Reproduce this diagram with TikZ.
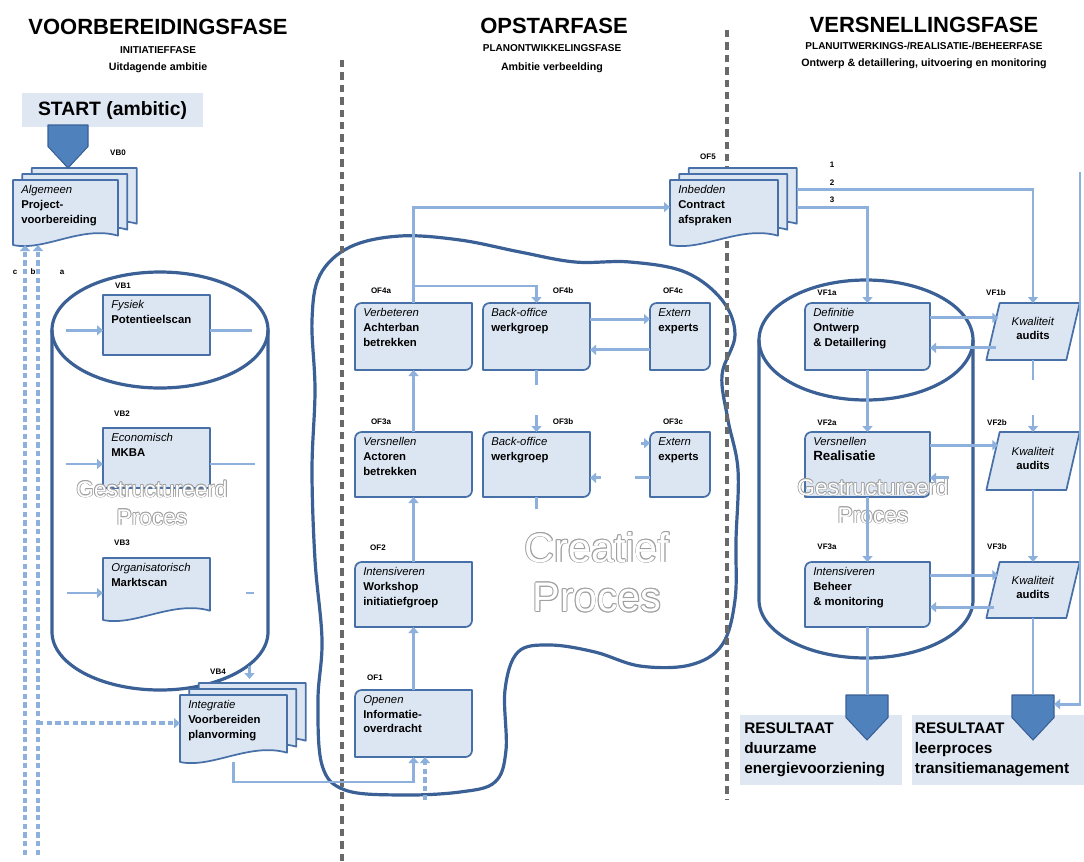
\documentclass[tikz,border=0pt]{standalone}
\usepackage{fontspec}
\setmainfont{Liberation Sans}
\usetikzlibrary{calc,arrows.meta}
\pgfdeclarelayer{back}
\pgfdeclarelayer{mid}
\pgfsetlayers{back,mid,main}

\definecolor{boxfill}{RGB}{220,230,242}
\definecolor{boxedge}{RGB}{72,112,168}
\definecolor{linkblue}{RGB}{141,177,220}
\definecolor{rimblue}{RGB}{58,96,150}
\definecolor{shieldblue}{RGB}{79,129,189}
\definecolor{sepgray}{RGB}{105,105,105}
\definecolor{panelfill}{RGB}{222,231,242}
\definecolor{rimgray}{RGB}{160,160,160}

% node of given pixel extent: style, name, x1, y1, x2, y2, text
\newcommand\place[7]{\node[#1, minimum width={(#5-#3)*0.75pt}, minimum height={(#6-#4)*0.75pt}] (#2) at ({(#3+#5)/2},{(#4+#6)/2}) {#7};}
% text block in the upper left corner of a box
\newcommand\btext[2]{\node[btxt] (#1-t) at ([xshift=6pt,yshift=-4pt]#1.north west) {#2};}
% box outlines
\newcommand\rectshape[1]{\path[boxshape] (#1.north west) rectangle (#1.south east);}
\newcommand\roundshape[1]{\path[boxshape] (#1.south west) -- ([yshift=-5pt]#1.north west) arc[start angle=180,end angle=90,radius=5pt] -- (#1.north east) -- ([yshift=5pt]#1.south east) arc[start angle=0,end angle=-90,radius=5pt] -- cycle;}
\newcommand\docshape[3]{\path[boxshape]
  ([xshift=#2,yshift=#3]#1.north west) -- ([xshift=#2,yshift=#3]#1.north east)
  -- ([xshift=#2,yshift=#3+7pt]#1.south east)
  .. controls ($(#1.south east)!0.35!(#1.south west)+(#2,#3+15pt)$) and ($(#1.south east)!0.7!(#1.south west)+(#2,#3-5pt)$)
  .. ([xshift=#2,yshift=#3]#1.south west) -- cycle;}
\newcommand\stackshape[1]{\docshape{#1}{14pt}{9pt}\docshape{#1}{7pt}{4.5pt}\docshape{#1}{0pt}{0pt}}
\newcommand\parashape[1]{\path[boxshape] ([xshift=5pt]#1.north west) -- ([xshift=5pt]#1.north east) -- ([xshift=-5pt]#1.south east) -- ([xshift=-5pt]#1.south west) -- cycle;}
\newcommand\shieldshape[1]{\path[shield] (#1.north west) -- (#1.north east) -- ($(#1.north east)!0.5!(#1.south east)$) -- (#1.south) -- ($(#1.north west)!0.5!(#1.south west)$) -- cycle;}
% white lettering with a grey rim: name, position, size, skip, text
\newcommand\ghosttext[5]{%
  \foreach \gx/\gy [count=\gi] in {0.6/0,-0.6/0,0/0.6,0/-0.6,0.42/0.42,-0.42/0.42,0.42/-0.42,-0.42/-0.42}{
    \node[align=center, inner sep=0pt, text=rimgray, font=\fontsize{#3}{#4}\selectfont] (#1-\gi) at ([xshift=\gx*1pt,yshift=\gy*1pt]#2) {#5};}
  \node[align=center, inner sep=0pt, text=white, font=\fontsize{#3}{#4}\selectfont] (#1) at (#2) {#5};}

\begin{document}
\begin{tikzpicture}[x=0.75pt,y=-0.75pt,
  area/.style={rectangle, inner sep=0pt, outer sep=0pt, draw=none},
  panel/.style={rectangle, inner sep=0pt, outer sep=0pt, fill=panelfill},
  boxshape/.style={draw=boxedge, line width=1.3pt, fill=boxfill, line join=round},
  shield/.style={draw=rimblue, line width=0.8pt, fill=shieldblue, line join=round},
  btxt/.style={inner sep=0pt, align=left, anchor=north west, font=\fontsize{8.5}{11}\selectfont},
  ktxt/.style={inner sep=0pt, align=center, font=\fontsize{8.5}{10.5}\selectfont},
  tag/.style={inner sep=0pt, font=\bfseries\fontsize{6}{7}\selectfont},
  head/.style={inner sep=0pt, font=\bfseries\fontsize{16.5}{18}\selectfont},
  subcap/.style={inner sep=0pt, font=\bfseries\fontsize{7.5}{9}\selectfont},
  sublow/.style={inner sep=0pt, font=\bfseries\fontsize{8}{9}\selectfont},
  restxt/.style={inner sep=0pt, align=left, anchor=west, font=\bfseries\fontsize{11.5}{15}\selectfont},
  link/.style={draw=linkblue, line width=2.2pt},
  arr/.style={link, -{Triangle[length=4.5pt,width=7.5pt]}},
  dlink/.style={draw=linkblue, line width=2.6pt, dash pattern=on 4pt off 2.5pt},
  darr/.style={dlink, -{Triangle[length=4.5pt,width=7.5pt]}},
  rim/.style={draw=rimblue, line width=2.4pt},
  sep/.style={draw=sepgray, line width=3.6pt, dash pattern=on 5.5pt off 3.8pt}]
\useasboundingbox (0,0) rectangle (1084,861);

% ---------- background: phase separators, cylinders, creative cloud ----------
\coordinate (s1a) at (342,60);  \coordinate (s1b) at (342,861);
\coordinate (s2a) at (727,30);  \coordinate (s2b) at (727,800);
\begin{pgfonlayer}{back}
  \path[rim] plot[smooth cycle, tension=0.6] coordinates {
    (320,275) (350,247) (400,236) (460,240) (520,252) (575,262) (630,262) (685,272)
    (722,300) (735,335) (722,375) (728,420) (738,470) (736,540) (735,600) (722,645)
    (690,665) (640,666) (595,652) (550,645) (518,652) (505,690) (506,750) (495,782)
    (460,792) (400,795) (345,790) (322,765) (318,700) (322,640) (315,560) (312,470)
    (315,390) (312,320)};
  % left cylinder
  \path[rim] (160,330) ellipse [x radius=108, y radius=58];
  \path[rim] (52,330) -- (52,632) arc[start angle=180, end angle=0, x radius=108, y radius=58] -- (268,330);
  % right cylinder
  \path[rim] (866,340) ellipse [x radius=107, y radius=60];
  \path[rim] (759,340) -- (759,600) arc[start angle=180, end angle=0, x radius=107, y radius=58] -- (973,340);
  \path[sep] (s1a) -- (s1b);
  \path[sep] (s2a) -- (s2b);
\end{pgfonlayer}

% ---------- headings ----------
\node[head] (h1) at (158,27) {VOORBEREIDINGSFASE};
\node[subcap] (h1a) at (158,50) {INITIATIEFFASE};
\node[sublow] (h1b) at (158,68) {Uitdagende ambitie};
\node[head] (h2) at (554,26) {OPSTARFASE};
\node[subcap] (h2a) at (552,48) {PLANONTWIKKELINGSFASE};
\node[sublow] (h2b) at (552,68) {Ambitie verbeelding};
\node[head] (h3) at (924,25) {VERSNELLINGSFASE};
\node[subcap] (h3a) at (924,46) {PLANUITWERKINGS-/REALISATIE-/BEHEERFASE};
\node[sublow] (h3b) at (924,64) {Ontwerp \& detaillering, uitvoering en monitoring};

% ---------- panels ----------
\place{panel}{start}{22}{93}{203}{127}{}
\node[inner sep=0pt, font=\bfseries\fontsize{14.5}{16}\selectfont] (start-t) at (start) {START (ambitic)};
\place{panel}{res1}{740}{715}{902}{785}{}
\place{panel}{res2}{912}{715}{1084}{785}{}
\node[restxt] (res1-t) at ([xshift=3pt]res1.west) {RESULTAAT\\duurzame\\energievoorziening};
\node[restxt] (res2-t) at ([xshift=2pt]res2.west) {RESULTAAT\\leerproces\\transitiemanagement};

% ---------- box areas ----------
\place{area}{alg}{13}{180}{118}{245}{}
\place{area}{vb1}{103}{295}{210}{355}{}
\place{area}{vb2}{103}{428}{210}{488}{}
\place{area}{vb3}{103}{558}{210}{620}{}
\place{area}{vb4}{180}{695}{287}{762}{}
\place{area}{of4a}{355}{303}{472}{370}{}
\place{area}{of4b}{483}{303}{590}{370}{}
\place{area}{of4c}{650}{303}{710}{370}{}
\place{area}{of3a}{355}{432}{472}{497}{}
\place{area}{of3b}{483}{432}{590}{497}{}
\place{area}{of3c}{650}{432}{710}{497}{}
\place{area}{of2}{355}{562}{472}{627}{}
\place{area}{of1}{355}{690}{472}{757}{}
\place{area}{oc}{670}{180}{778}{245}{}
\place{area}{vf1a}{805}{303}{930}{370}{}
\place{area}{vf2a}{805}{432}{930}{497}{}
\place{area}{vf3a}{805}{562}{930}{627}{}
\place{area}{k1}{993}{303}{1073}{360}{}
\place{area}{k2}{993}{432}{1073}{490}{}
\place{area}{k3}{993}{562}{1073}{618}{}
\place{area}{sh1}{48}{125}{88}{168}{}
\place{area}{sh2}{846}{695}{888}{740}{}
\place{area}{sh3}{1012}{695}{1054}{740}{}

\begin{pgfonlayer}{mid}
  \stackshape{alg}
  \rectshape{vb1}
  \rectshape{vb2}
  \docshape{vb3}{0pt}{0pt}
  \stackshape{vb4}
  \roundshape{of4a}\roundshape{of4b}\roundshape{of4c}
  \roundshape{of3a}\roundshape{of3b}\roundshape{of3c}
  \roundshape{of2}\roundshape{of1}
  \stackshape{oc}
  \roundshape{vf1a}\roundshape{vf2a}\roundshape{vf3a}
  \parashape{k1}\parashape{k2}\parashape{k3}
\end{pgfonlayer}

\shieldshape{sh1}
\shieldshape{sh2}
\shieldshape{sh3}

% ---------- box texts ----------
\btext{alg}{\textit{Algemeen}\\\textbf{Project-}\\\textbf{voorbereiding}}
\btext{vb1}{\textit{Fysiek}\\\textbf{Potentieelscan}}
\btext{vb2}{\textit{Economisch}\\\textbf{MKBA}}
\btext{vb3}{\textit{Organisatorisch}\\\textbf{Marktscan}}
\btext{vb4}{\textit{Integratie}\\\textbf{Voorbereiden}\\\textbf{planvorming}}
\btext{of4a}{\textit{Verbeteren}\\\textbf{Achterban}\\\textbf{betrekken}}
\btext{of4b}{\textit{Back-office}\\\textbf{werkgroep}}
\btext{of4c}{\textit{Extern}\\\textbf{experts}}
\btext{of3a}{\textit{Versnellen}\\\textbf{Actoren}\\\textbf{betrekken}}
\btext{of3b}{\textit{Back-office}\\\textbf{werkgroep}}
\btext{of3c}{\textit{Extern}\\\textbf{experts}}
\btext{of2}{\textit{Intensiveren}\\\textbf{Workshop}\\\textbf{initiatiefgroep}}
\btext{of1}{\textit{Openen}\\\textbf{Informatie-}\\\textbf{overdracht}}
\btext{oc}{\textit{Inbedden}\\\textbf{Contract}\\\textbf{afspraken}}
\btext{vf1a}{\textit{Definitie}\\\textbf{Ontwerp}\\\textbf{\& Detaillering}}
\btext{vf2a}{\textit{Versnellen}\\\textbf{\fontsize{10}{11}\selectfont Realisatie}}
\btext{vf3a}{\textit{Intensiveren}\\\textbf{Beheer}\\\textbf{\& monitoring}}
\node[ktxt] (k1-t) at ([yshift=2pt]k1.center) {\textit{Kwaliteit}\\\textbf{audits}};
\node[ktxt] (k2-t) at ([yshift=2pt]k2.center) {\textit{Kwaliteit}\\\textbf{audits}};
\node[ktxt] (k3-t) at ([yshift=2pt]k3.center) {\textit{Kwaliteit}\\\textbf{audits}};

% ---------- codes above the boxes ----------
\node[tag] (t-alg) at (118,153) {VB0};
\node[tag] (t-vb1) at (123,286) {VB1};
\node[tag] (t-vb2) at (122,414) {VB2};
\node[tag] (t-vb3) at (122,543) {VB3};
\node[tag] (t-vb4) at (218,672) {VB4};
\node[tag] (t-of4a) at (381,291) {OF4a};
\node[tag] (t-of4b) at (563,291) {OF4b};
\node[tag] (t-of4c) at (673,291) {OF4c};
\node[tag] (t-of3a) at (381,422) {OF3a};
\node[tag] (t-of3b) at (563,422) {OF3b};
\node[tag] (t-of3c) at (673,422) {OF3c};
\node[tag] (t-of2) at (378,548) {OF2};
\node[tag] (t-of1) at (375,678) {OF1};
\node[tag] (t-oc) at (708,157) {OF5};
\node[tag] (t-vf1a) at (827,293) {VF1a};
\node[tag] (t-k1) at (996,293) {VF1b};
\node[tag] (t-vf2a) at (827,423) {VF2a};
\node[tag] (t-k2) at (997,423) {VF2b};
\node[tag] (t-vf3a) at (827,547) {VF3a};
\node[tag] (t-k3) at (997,547) {VF3b};
\node[tag] (m-c) at (15,272) {c};
\node[tag] (m-b) at (33,272) {b};
\node[tag] (m-a) at (62,272) {a};
\node[tag] (n-1) at (832,165) {1};
\node[tag] (n-2) at (832,183) {2};
\node[tag] (n-3) at (832,200) {3};

% ---------- big lettering ----------
\ghosttext{gp1}{152,503}{17}{21}{Gestructureerd\\Proces}
\ghosttext{gp2}{873,501}{17}{21}{Gestructureerd\\Proces}
\ghosttext{cp}{597,572}{31}{37}{Creatief\\Proces}

% ---------- voorbereidingsfase connectors ----------
\coordinate (dA) at (25,855);
\coordinate (dB) at (38,855);
\path[darr] (dA) -- (dA |- alg.south);
\path[darr] (dB) -- (dB |- alg.south);
\path[darr] ([yshift=4pt]vb4.west -| dB) -- ([yshift=4pt]vb4.west);
\path[arr] ([xshift=-28pt,yshift=-4pt]vb1.west) -- ([yshift=-4pt]vb1.west);
\path[link] ([yshift=-4pt]vb1.east) -- ++(42,0);
\path[arr] ([xshift=-28pt,yshift=-4.5pt]vb2.west) -- ([yshift=-4.5pt]vb2.west);
\path[link] ([yshift=-4.5pt]vb2.east) -- ++(45,0);
\path[arr] ([xshift=-27pt,yshift=-3pt]vb3.west) -- ([yshift=-3pt]vb3.west);
\path[link] ([xshift=27pt,yshift=-3pt]vb3.east) -- ++(8,0);
\path[arr] ([xshift=12pt,yshift=22pt]vb4.north) -- ([xshift=12pt,yshift=12pt]vb4.north);
\path[arr] (vb4.south) |- ($(of1.south)+(0,25)$) -- (of1.south);
\coordinate (dC) at (425,800);
\path[darr] (dC) -- (dC |- of1.south);

% ---------- opstartfase connectors ----------
\path[arr] (of1.north) -- (of2.south);
\path[arr] (of2.north) -- (of3a.south);
\path[arr] (of3a.north) -- (of4a.south);
\path[arr] (of4a.north) |- ([yshift=4pt]oc.west);
\path[arr] ($(of4a.north)+(0,-17)$) -| (of4b.north);
\path[arr] ([yshift=13pt]of4b.east) -- ([yshift=13pt]of4b.east -| of4c.west);
\path[arr] ([yshift=-10pt]of4c.west) -- ([yshift=-10pt]of4c.west -| of4b.east);
\path[link] (of4b.south) -- ++(0,15);
\path[arr] ($(of3b.north)+(0,-17)$) -- (of3b.north);
\path[arr] ([xshift=-7pt,yshift=16pt]of3c.west) -- ([yshift=16pt]of3c.west);
\path[link] ([yshift=-10pt]of3c.west) -- ++(-15,0);
\path[arr] ([xshift=8pt,yshift=-10pt]of3b.east) -- ([yshift=-10pt]of3b.east);
\path[link] (of3b.south) -- ++(0,12);

% ---------- versnellingsfase connectors ----------
\path[arr] ([xshift=14pt,yshift=17pt]oc.east) -| (k1.north);
\path[arr] ([xshift=14pt,yshift=4pt]oc.east) -| (vf1a.north);
\path[arr] ([yshift=14pt]vf1a.east) -- ([xshift=4pt,yshift=14pt]vf1a.east -| k1.west);
\path[arr] ([xshift=2pt,yshift=-8.5pt]vf1a.east -| k1.west) -- ([yshift=-8.5pt]vf1a.east);
\path[arr] (vf1a.south) -- (vf2a.north);
\path[arr] (vf2a.south) -- (vf3a.north);
\path[link] (vf3a.south) -- (vf3a.south |- sh2.north);
\path[arr] ([yshift=14.5pt]vf2a.east) -- ([xshift=4pt,yshift=14.5pt]vf2a.east -| k2.west);
\path[arr] ([xshift=14pt,yshift=-10pt]vf2a.east) -- ([yshift=-10pt]vf2a.east);
\path[arr] ([yshift=14.5pt]vf3a.east) -- ([xshift=4pt,yshift=14.5pt]vf3a.east -| k3.west);
\path[arr] ([xshift=1pt,yshift=-9.5pt]vf3a.east -| k3.west) -- ([yshift=-9.5pt]vf3a.east);
\path[link] (k1.south) -- ++(0,20);
\path[arr] ($(k2.north)+(0,-17)$) -- (k2.north);
\path[arr] (k2.south) -- (k3.north);
\path[link] (k3.south) -- (k3.south |- sh3.north);
\coordinate (rtop) at (1080,172);
\path[arr] (rtop) |- ([yshift=10pt]sh3.east);
\end{tikzpicture}
\end{document}
